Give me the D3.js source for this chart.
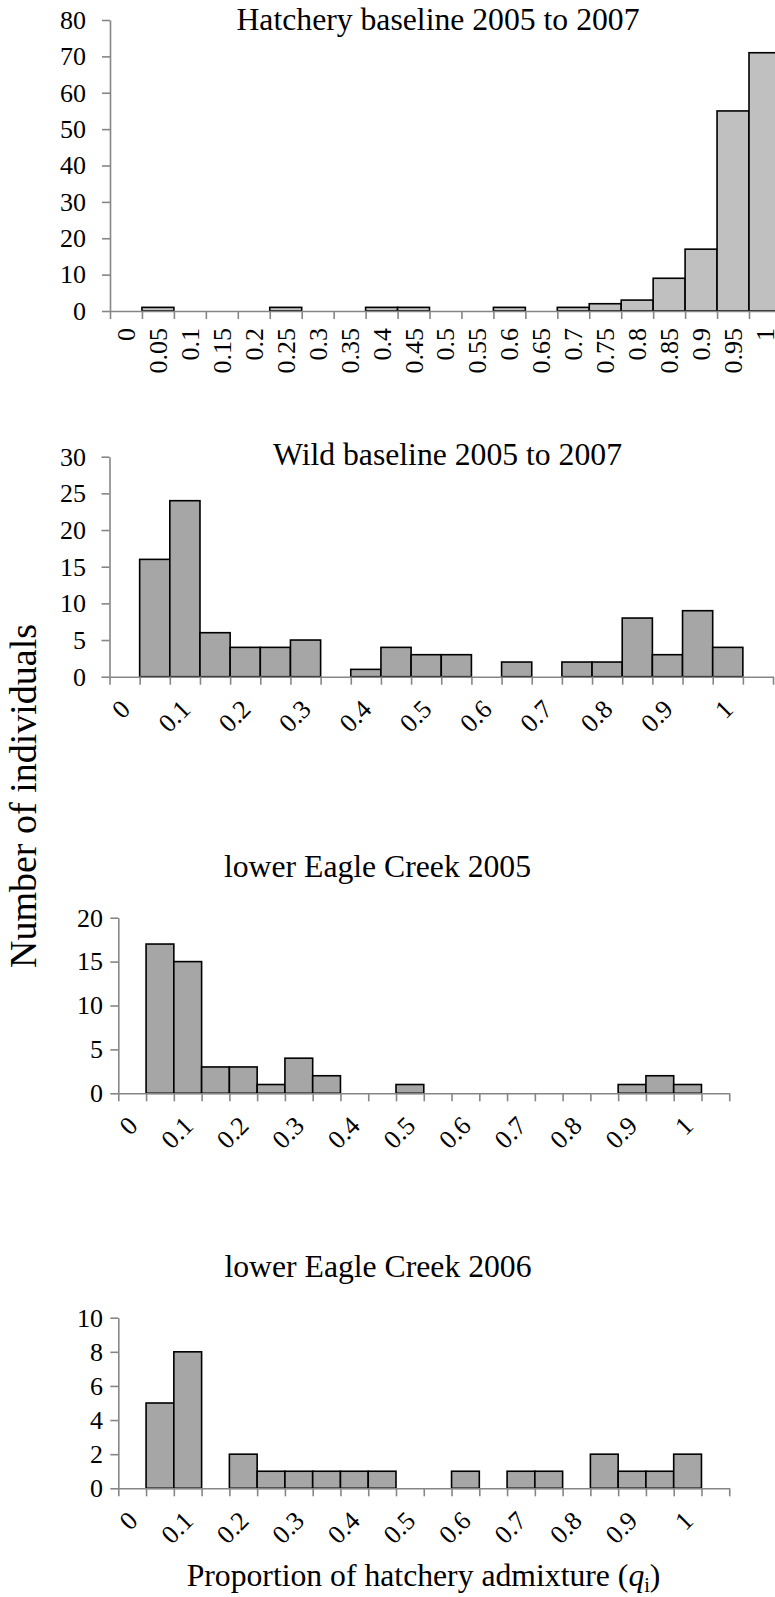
<!DOCTYPE html>
<html>
<head>
<meta charset="utf-8">
<script src="https://cdn.jsdelivr.net/npm/d3@7"></script>
<style>
  html, body { margin: 0; padding: 0; background: #fff; }
  svg { display: block; }
  text { font-family: 'Liberation Serif', 'Times New Roman', serif; fill: #000; }
</style>
</head>
<body>
<svg id="chart" width="775" height="1597"></svg>
<script>
// ---------------- DATA ----------------
const hatcheryBins = ["0","0.05","0.1","0.15","0.2","0.25","0.3","0.35","0.4","0.45","0.5",
                      "0.55","0.6","0.65","0.7","0.75","0.8","0.85","0.9","0.95","1"];
const hatcheryCounts = [0,1,0,0,0,1,0,0,1,1,0,0,1,0,1,2,3,9,17,55,71];

// 22 bins; labels shown on every other bin (0, 0.1, ..., 1); last bin unlabelled
const wildBins = ["0","0.05","0.1","0.15","0.2","0.25","0.3","0.35","0.4","0.45","0.5",
                  "0.55","0.6","0.65","0.7","0.75","0.8","0.85","0.9","0.95","1",""];
const wildCounts = [0,16,24,6,4,4,5,0,1,4,3,3,0,2,0,2,2,8,3,9,4,0];
const lec2005Counts = [0,17,15,3,3,1,4,2,0,0,1,0,0,0,0,0,0,0,1,2,1,0];
const lec2006Counts = [0,5,8,0,2,1,1,1,1,1,0,0,1,0,1,1,0,2,1,1,2,0];

const titles = ["Hatchery baseline 2005 to 2007", "Wild baseline 2005 to 2007",
                "lower Eagle Creek 2005", "lower Eagle Creek 2006"];
const yTicks1 = [0,10,20,30,40,50,60,70,80];
const yTicks2 = [0,5,10,15,20,25,30];
const yTicks3 = [0,5,10,15,20];
const yTicks4 = [0,2,4,6,8,10];
const yAxisTitle = "Number of individuals";

// ---------------- LAYOUT ----------------
const FONT = "'Liberation Serif', 'Times New Roman', serif";
const panels = [
  { bins: hatcheryBins, counts: hatcheryCounts, ticks: yTicks1, title: titles[0],
    x0: 110, bw: 31.95, y0: 311, yTop: 20, fill: "#c0c0c0", labelEnd: 86,
    titleX: 438, titleY: 30, rotate: -90, every: 1 },
  { bins: wildBins, counts: wildCounts, ticks: yTicks2, title: titles[1],
    x0: 109.5, bw: 30.16, y0: 676.7, yTop: 456.7, fill: "#a6a6a6", labelEnd: 86,
    titleX: 447.5, titleY: 465, rotate: -45, every: 2 },
  { bins: wildBins, counts: lec2005Counts, ticks: yTicks3, title: titles[2],
    x0: 118.3, bw: 27.77, y0: 1093.3, yTop: 917.7, fill: "#a6a6a6", labelEnd: 103,
    titleX: 377.5, titleY: 877, rotate: -45, every: 2 },
  { bins: wildBins, counts: lec2006Counts, ticks: yTicks4, title: titles[3],
    x0: 118.3, bw: 27.77, y0: 1488.3, yTop: 1317.7, fill: "#a6a6a6", labelEnd: 103,
    titleX: 378, titleY: 1277, rotate: -45, every: 2 }
];

const svg = d3.select("#chart");
svg.append("rect").attr("width", 775).attr("height", 1597).attr("fill", "#fff");
const axisGray = "#868686";

panels.forEach(p => {
  const n = p.bins.length;
  const g = svg.append("g");
  const x = d3.scaleBand().domain(d3.range(n)).range([p.x0, p.x0 + n * p.bw]).padding(0);
  const xEdge = d3.scaleLinear().domain([0, n]).range([p.x0, p.x0 + n * p.bw]);
  const ymax = p.ticks[p.ticks.length - 1];
  const y = d3.scaleLinear().domain([0, ymax]).range([p.y0, p.yTop]);

  // title
  g.append("text").attr("x", p.titleX).attr("y", p.titleY)
    .attr("text-anchor", "middle").attr("font-family", FONT)
    .style("font-size", "31.7px").text(p.title);

  // y axis
  const ya = g.append("g").attr("transform", `translate(${p.x0},0)`)
    .call(d3.axisLeft(y).tickValues(p.ticks).tickSize(8)
      .tickPadding(p.x0 - p.labelEnd - 8).tickSizeOuter(0).tickFormat(d3.format("d")));
  ya.attr("font-family", FONT).attr("font-size", 26);
  ya.select(".domain").attr("stroke", axisGray).attr("stroke-width", 1.6);
  ya.selectAll(".tick line").attr("stroke", axisGray).attr("stroke-width", 1.6);
  ya.selectAll(".tick text").attr("font-family", FONT).style("font-size", "26px").attr("fill", "#000");

  // bars
  g.append("g").selectAll("rect")
    .data(p.counts.map((v, i) => ({ v, i })).filter(d => d.v > 0))
    .join("rect")
    .attr("x", d => x(d.i)).attr("width", x.bandwidth())
    .attr("y", d => y(d.v)).attr("height", d => y(0) - y(d.v))
    .attr("fill", p.fill).attr("stroke", "#000").attr("stroke-width", 1.6);

  // x axis (ticks at bin boundaries)
  const xa = g.append("g").attr("transform", `translate(0,${p.y0})`)
    .call(d3.axisBottom(xEdge).tickValues(d3.range(n + 1)).tickSize(8)
      .tickSizeOuter(0).tickFormat(""));
  xa.select(".domain").attr("stroke", axisGray).attr("stroke-width", 1.6);
  xa.selectAll(".tick line").attr("stroke", axisGray).attr("stroke-width", 1.6);

  // category labels
  const lab = g.append("g");
  p.bins.forEach((b, i) => {
    if (i % p.every !== 0 || b === "") return;
    const cx = x(i) + x.bandwidth() / 2;
    const t = lab.append("text").attr("text-anchor", "end")
      .attr("font-family", FONT).style("font-size", "26px").text(b);
    if (p.rotate === -90) {
      t.attr("transform", `translate(${cx + 9},${p.y0 + 17}) rotate(-90)`);
    } else {
      t.attr("transform", `translate(${cx + 7},${p.y0 + 34}) rotate(-45)`);
    }
  });
});

// axis titles
svg.append("text")
  .attr("transform", "translate(36,796) rotate(-90)")
  .attr("text-anchor", "middle").attr("font-family", FONT)
  .style("font-size", "38px").text(yAxisTitle);

const xt = svg.append("text").attr("x", 423.5).attr("y", 1586)
  .attr("text-anchor", "middle").attr("font-family", FONT).style("font-size", "31.7px");
xt.append("tspan").text("Proportion of hatchery admixture (");
xt.append("tspan").style("font-style", "italic").text("q");
xt.append("tspan").style("font-size", "20px").attr("dy", 6).text("i");
xt.append("tspan").attr("dy", -6).text(")");
</script>
</body>
</html>
